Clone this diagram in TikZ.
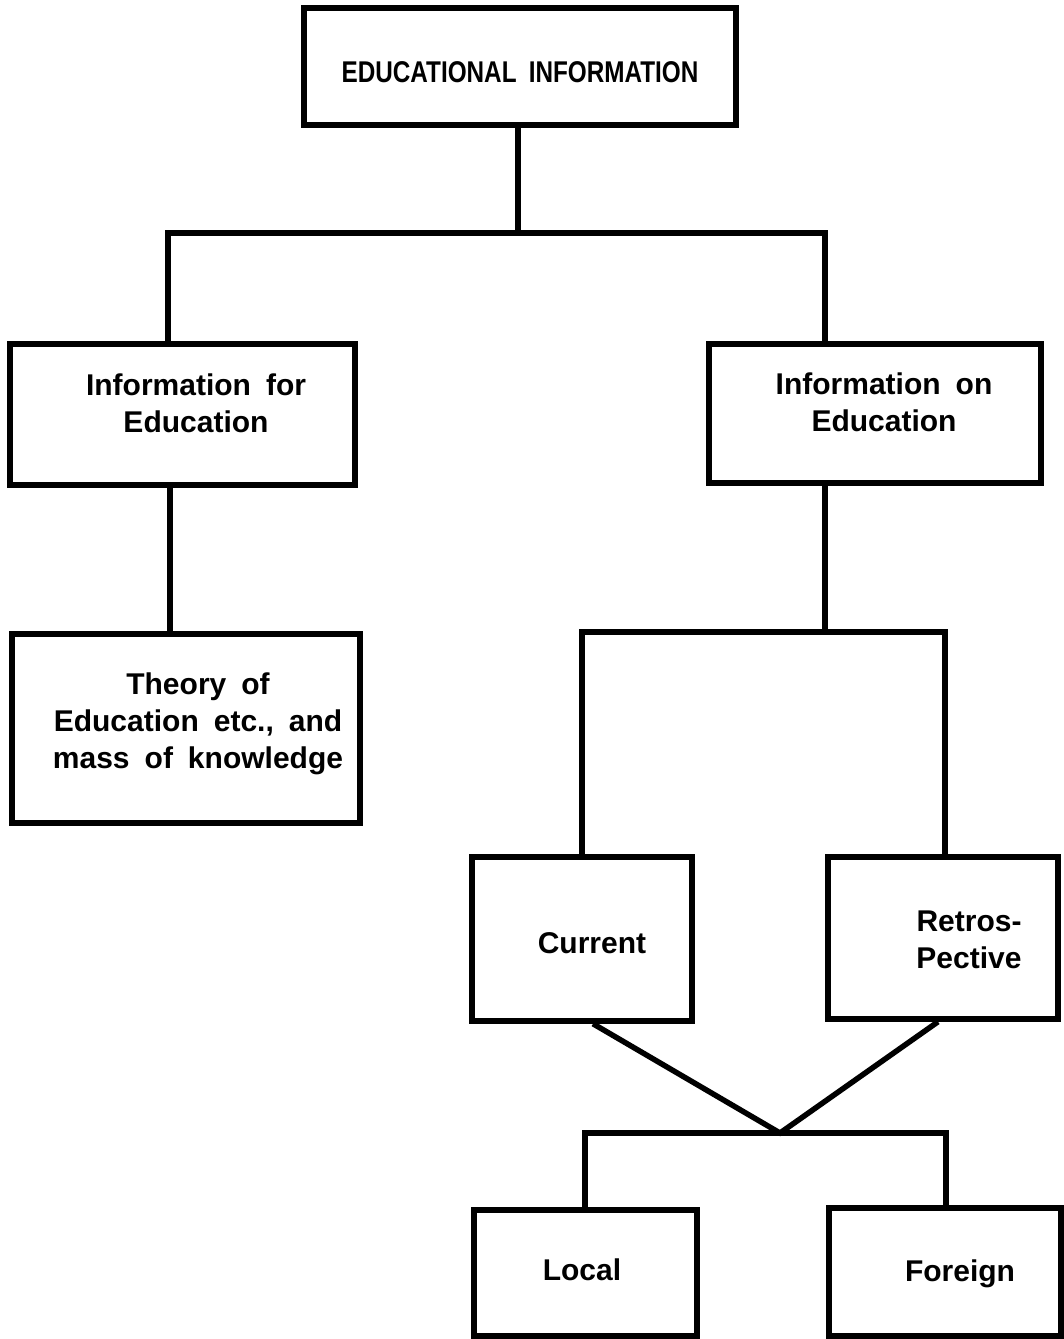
\documentclass[tikz,border=0pt]{standalone}
\usepackage{fontspec}
\usepackage{graphicx}
\setmainfont{Liberation Sans}[WordSpace=1.8]
\begin{document}
\begin{tikzpicture}[x=1pt,y=-1pt,
  box/.style={draw=black, line width=5.5pt, rectangle, inner sep=0pt},
  lbl/.style={font=\fontsize{30}{37}\bfseries, align=center, inner sep=0pt, text=black},
  link/.style={draw=black, line width=5.5pt, line cap=rect, line join=miter}]
\useasboundingbox[fill=white] (0,0) rectangle (1064,1339);

% boxes
\node[box, minimum width=432pt, minimum height=117pt] (top) at (520,66.5) {};
\node[box, minimum width=345pt, minimum height=141pt] (ifor) at (182.5,414.5) {};
\node[box, minimum width=332pt, minimum height=139pt] (ion) at (875,413.5) {};
\node[box, minimum width=348pt, minimum height=189pt] (theory) at (186,728.5) {};
\node[box, minimum width=220pt, minimum height=164pt] (cur) at (582,939) {};
\node[box, minimum width=230pt, minimum height=162pt] (ret) at (943,938) {};
\node[box, minimum width=223pt, minimum height=126pt] (loc) at (585.5,1273) {};
\node[box, minimum width=232pt, minimum height=128pt] (for) at (945,1272) {};

% labels
\node[lbl] (top-t) at (520,72) {\scalebox{0.81}[1]{EDUCATIONAL INFORMATION}};
\node[lbl] (ifor-t) at (196,403) {Information for\\Education};
\node[lbl] (ion-t) at (884,402) {Information on\\Education};
\node[lbl] (theory-t) at (198,724) {Theory of\\Education etc., and\\mass of knowledge};
\node[lbl] (cur-t) at (592,943) {Current};
\node[lbl] (ret-t) at (969,940) {Retros-\\Pective};
\node[lbl] (loc-t) at (582,1270) {Local};
\node[lbl] (for-t) at (960,1274) {Foreign};

% junction points
\coordinate (j1) at (518,233);
\coordinate (jl) at (168,233);
\coordinate (jr) at (825,233);
\coordinate (kl) at (170,0);
\coordinate (k2) at (825,632);
\coordinate (c1) at (582,632);
\coordinate (c2) at (945,632);
\coordinate (cs) at (593,0);
\coordinate (rs) at (938,0);
\coordinate (v) at (780,1133);
\coordinate (b1) at (585,1133);
\coordinate (b2) at (946,1133);

% connectors
\draw[link] (top.south -| j1) -- (j1);
\draw[link] (ifor.north -| jl) -- (jl) -- (jr) -- (ion.north -| jr);
\draw[link] (ifor.south -| kl) -- (theory.north -| kl);
\draw[link] (ion.south -| k2) -- (k2);
\draw[link] (cur.north -| c1) -- (c1) -- (c2) -- (ret.north -| c2);
\draw[link, line cap=butt] (cur.south -| cs) -- (v) -- (ret.south -| rs);
\draw[link] (loc.north -| b1) -- (b1) -- (b2) -- (for.north -| b2);
\end{tikzpicture}
\end{document}
